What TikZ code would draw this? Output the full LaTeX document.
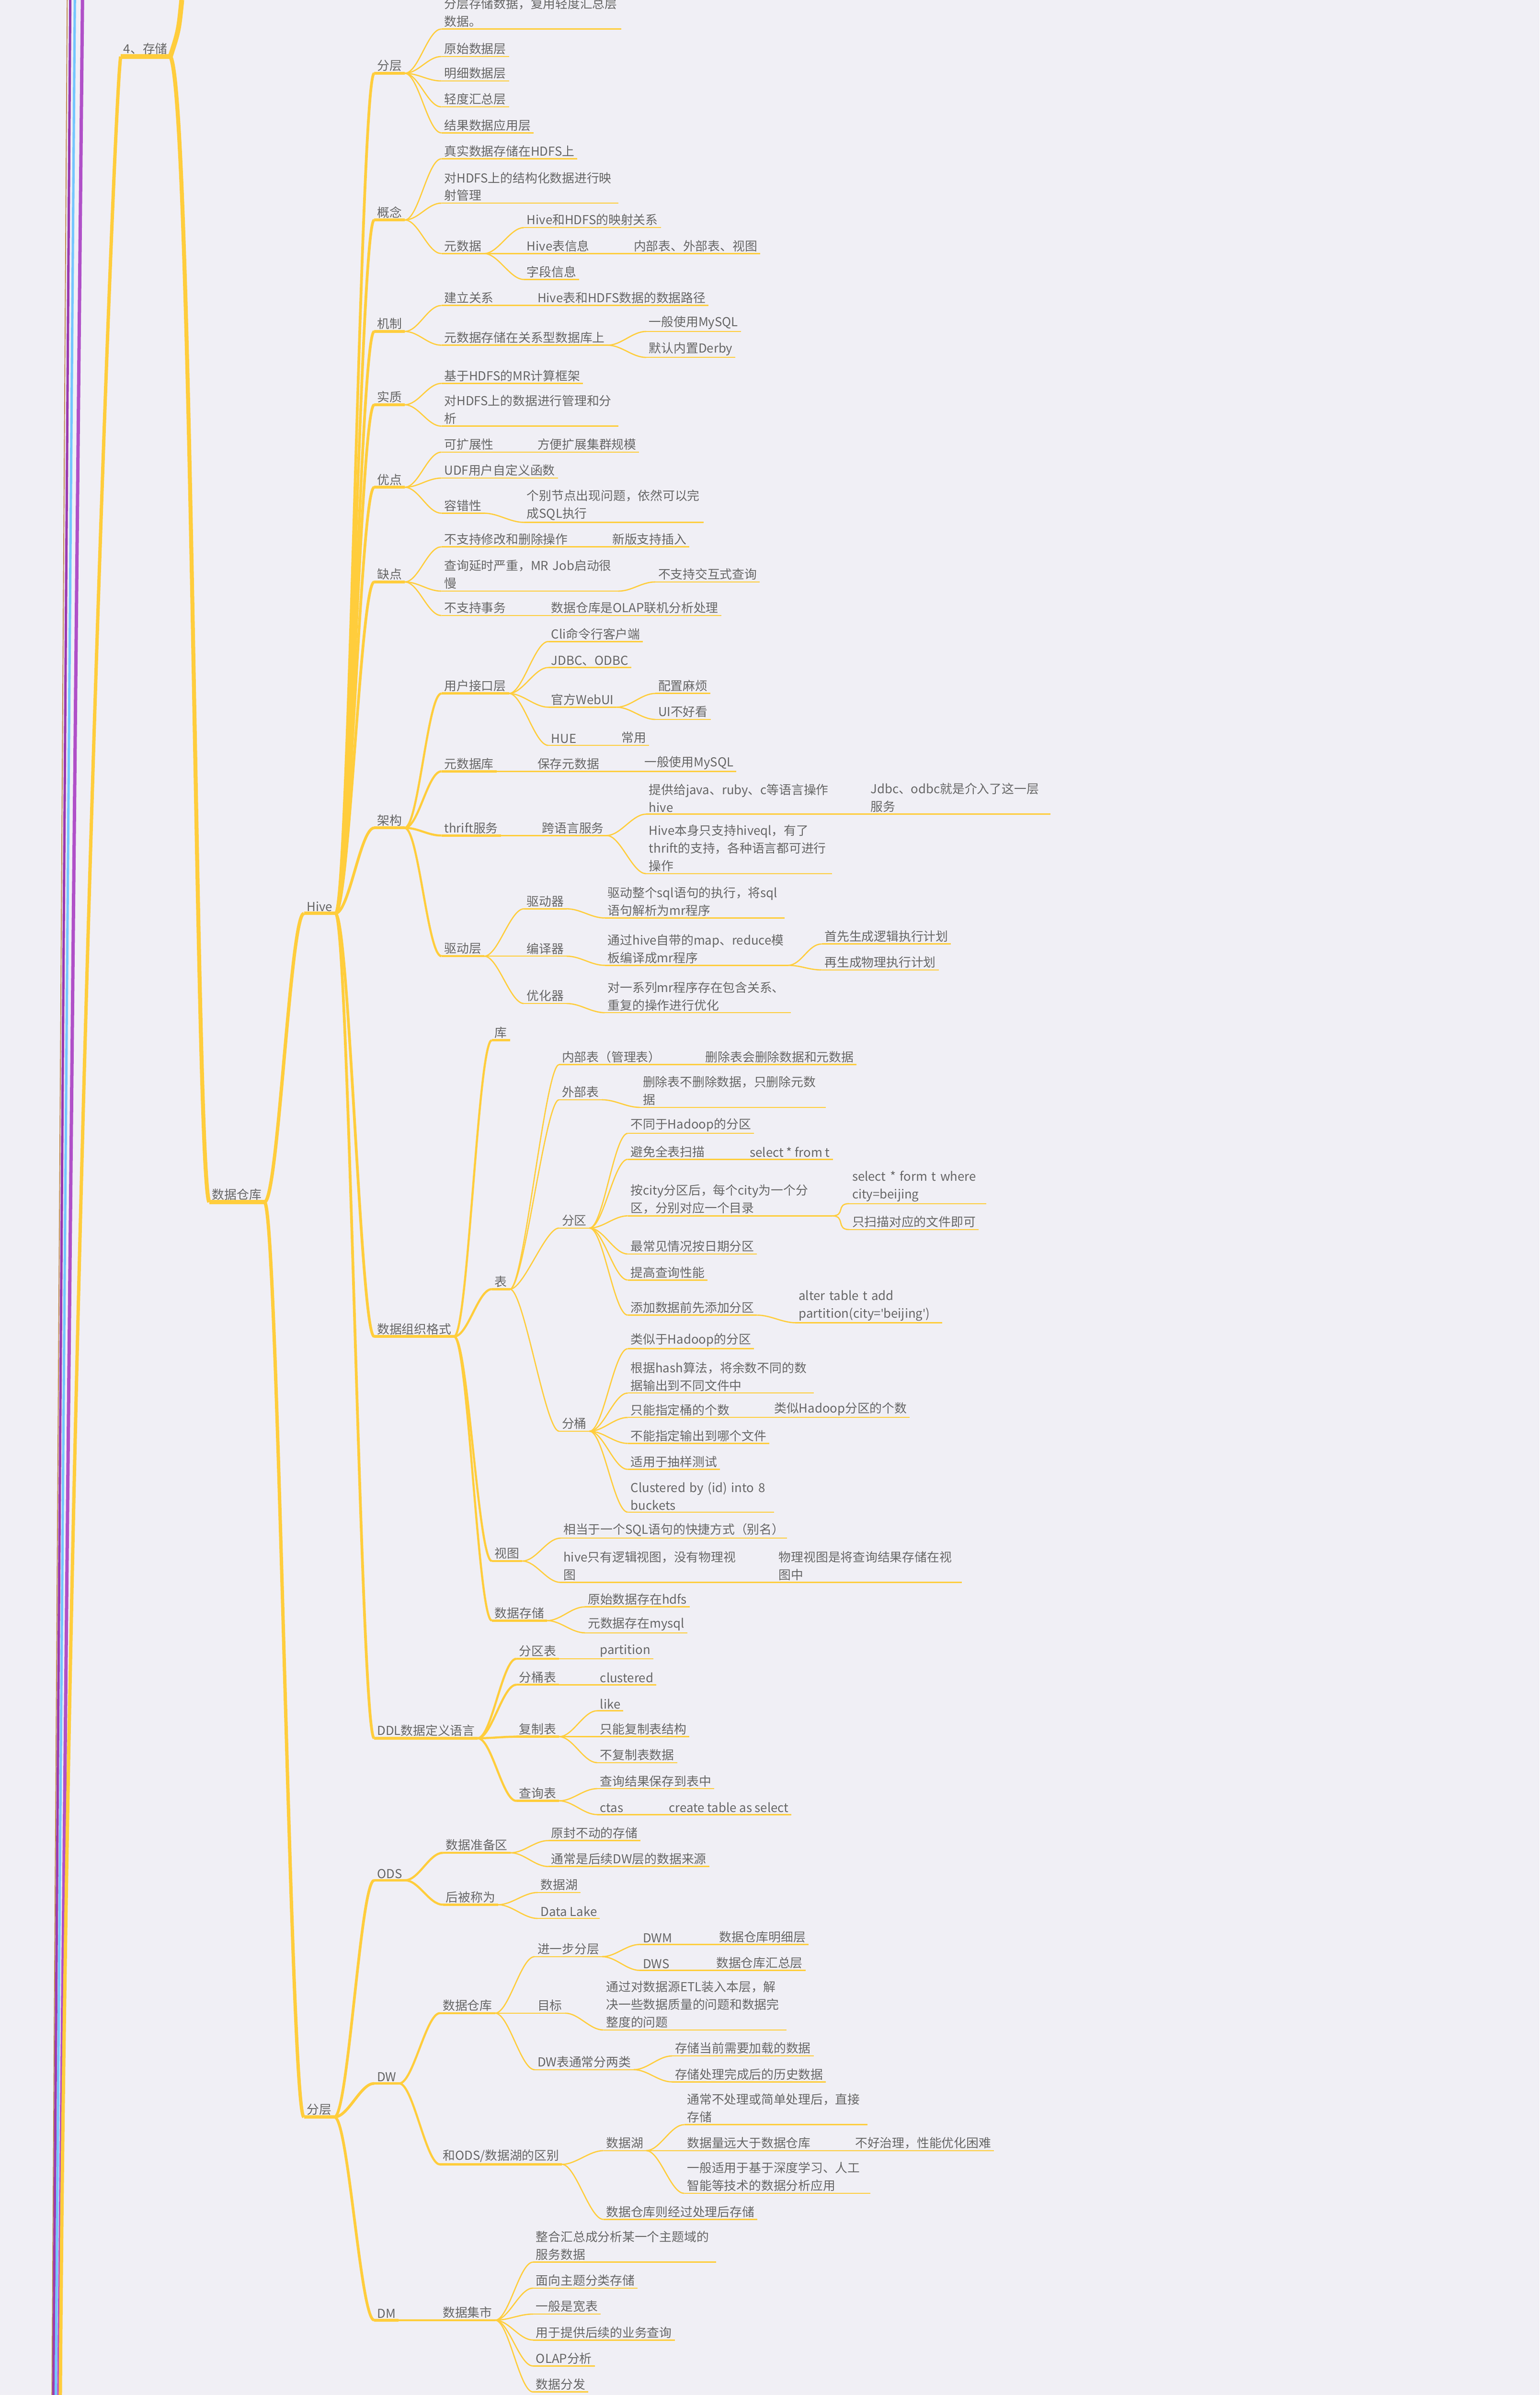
\documentclass[tikz,border=0pt]{standalone}
\usepackage{fontspec}
\setmainfont{Noto Sans CJK SC}
\newfontfamily\latf{Noto Sans}
\usetikzlibrary{positioning}
\definecolor{bgc}{HTML}{F0EFF5}
\definecolor{yl}{HTML}{FFCD3C}
\definecolor{txt}{HTML}{666666}
\definecolor{pur}{HTML}{9B3AB0}
\definecolor{purl}{HTML}{B050C8}
\definecolor{sky}{HTML}{74C6FF}
\definecolor{brn}{HTML}{C08A50}
\newcommand\nd[5][]{\node[lf,#1] (#2) at (#3,#4) {#5};}
\newcommand\br[3][0.04cm]{\draw[yl,line width=#1] (#2.south east) .. controls +(9,0) and +(-9,0) .. (#3.south west);}

\begin{document}
\begin{tikzpicture}[
    x=0.05cm, y=-0.05cm,
    lf/.style={anchor=south west, inner xsep=2.5pt, inner ysep=1.6pt, text=txt, align=left,
      font=\fontsize{11.5}{16.5}\selectfont,
      append after command={(\tikzlastnode.south west) edge[yl, line width=#1] (\tikzlastnode.south east)}},
    lf/.default=0.04cm
]
\useasboundingbox[fill=bgc] (0,0) rectangle (1008,1568);

% side branches
\coordinate (a0) at (44,0);  \coordinate (a1) at (34,1568);
\coordinate (b0) at (46,0);  \coordinate (b1) at (35,1568);
\coordinate (c0) at (49,0);  \coordinate (c1) at (36.5,1568);
\coordinate (d0) at (54,0);  \coordinate (d1) at (38.5,1568);
\draw[brn, line width=0.03cm] (a0) -- (a1);
\draw[pur, line width=0.08cm] (b0) -- (b1);
\draw[sky, line width=0.08cm] (c0) -- (c1);
\draw[purl, line width=0.11cm] (d0) -- (d1);

% root branch
\nd[lf=0.16cm]{store}{79}{37}{4、存储}
\coordinate (up) at (119,0);
\coordinate (dn) at (39.5,1568);
\draw[yl, line width=0.16cm] (store.south east) .. controls (117,20) .. (up);
\draw[yl, line width=0.11cm] (store.south west) .. controls (74,70) and (44,900) .. (dn);

\nd[lf=0.13cm]{dw}{137}{787}{数据仓库}
\draw[yl, line width=0.13cm] (store.south east) .. controls (126,60) and (128,770) .. (dw.south west);

\nd[lf=0.11cm]{hive}{199}{598}{Hive}
\nd[lf=0.11cm]{lay}{199}{1386}{分层}
\br[0.11cm]{dw}{hive}
\br[0.11cm]{dw}{lay}

% Hive
\nd[lf=0.09cm]{fc}{245}{48}{分层}
\nd[lf=0.09cm]{gn}{245}{144}{概念}
\nd[lf=0.09cm]{jz}{245}{217}{机制}
\nd[lf=0.09cm]{sz}{245}{265}{实质}
\nd[lf=0.09cm]{yd}{245}{319}{优点}
\nd[lf=0.09cm]{qd}{245}{381}{缺点}
\nd[lf=0.09cm]{jg}{245}{542}{架构}
\nd[lf=0.09cm]{zz}{245}{875}{数据组织格式}
\nd[lf=0.09cm]{ddl}{245}{1138}{DDL数据定义语言}
\foreach \k in {fc,gn,jz,sz,yd,qd,jg,zz,ddl} {\br[0.09cm]{hive}{\k}}

% Hive / 分层
\nd[text width=5.7cm]{fc0}{289}{19}{分层存储数据，复用轻度汇总层\\数据。}
\nd{fc1}{289}{37}{原始数据层}
\nd{fc2}{289}{53}{明细数据层}
\nd{fc3}{289}{70}{轻度汇总层}
\nd{fc4}{289}{87}{结果数据应用层}
\foreach \k in {fc0,fc1,fc2,fc3,fc4} {\br{fc}{\k}}

% Hive / 概念
\nd{gn1}{289}{104}{真实数据存储在HDFS上}
\nd[text width=5.6cm]{gn2}{289}{133}{对HDFS上的结构化数据进行映\\射管理}
\nd{gn3}{289}{166}{元数据}
\foreach \k in {gn1,gn2,gn3} {\br{gn}{\k}}
\nd{gn31}{343}{149}{Hive和HDFS的映射关系}
\nd{gn32}{343}{166}{Hive表信息}
\nd{gn33}{343}{183}{字段信息}
\foreach \k in {gn31,gn32,gn33} {\br{gn3}{\k}}
\nd{gn321}{413}{166}{内部表、外部表、视图}
\br{gn32}{gn321}

% Hive / 机制
\nd{jz1}{289}{200}{建立关系}
\nd{jz2}{289}{226}{元数据存储在关系型数据库上}
\br{jz}{jz1} \br{jz}{jz2}
\nd{jz11}{350}{200}{Hive表和HDFS数据的数据路径}
\br{jz1}{jz11}
\nd{jz21}{423}{217}{一般使用MySQL}
\nd{jz22}{423}{234}{默认内置Derby}
\br{jz2}{jz21} \br{jz2}{jz22}

% Hive / 实质
\nd{sz1}{289}{251}{基于HDFS的MR计算框架}
\nd[text width=5.6cm]{sz2}{289}{279}{对HDFS上的数据进行管理和分\\析}
\br{sz}{sz1} \br{sz}{sz2}

% Hive / 优点
\nd{yd1}{289}{296}{可扩展性}
\nd{yd2}{289}{313}{UDF用户自定义函数}
\nd{yd3}{289}{336}{容错性}
\foreach \k in {yd1,yd2,yd3} {\br{yd}{\k}}
\nd{yd11}{350}{296}{方便扩展集群规模}
\br{yd1}{yd11}
\nd[text width=5.7cm]{yd31}{343}{342}{个别节点出现问题，依然可以完\\成SQL执行}
\br{yd3}{yd31}

% Hive / 缺点
\nd{qd1}{289}{358}{不支持修改和删除操作}
\nd[text width=5.6cm]{qd2}{289}{387}{查询延时严重，MR Job启动很\\慢}
\nd{qd3}{289}{403}{不支持事务}
\foreach \k in {qd1,qd2,qd3} {\br{qd}{\k}}
\nd{qd11}{399}{358}{新版支持插入}
\nd{qd21}{429}{381}{不支持交互式查询}
\nd{qd31}{359}{403}{数据仓库是OLAP联机分析处理}
\br{qd1}{qd11} \br{qd2}{qd21} \br{qd3}{qd31}

% Hive / 架构
\nd[lf=0.07cm]{jg1}{289}{454}{用户接口层}
\nd[lf=0.07cm]{jg2}{289}{505}{元数据库}
\nd[lf=0.07cm]{jg3}{289}{547}{thrift服务}
\nd[lf=0.07cm]{jg4}{289}{626}{驱动层}
\foreach \k in {jg1,jg2,jg3,jg4} {\br[0.07cm]{jg}{\k}}
\nd{jg11}{359}{420}{Cli命令行客户端}
\nd{jg12}{359}{437}{JDBC、ODBC}
\nd{jg13}{359}{463}{官方WebUI}
\nd{jg14}{359}{488}{HUE}
\foreach \k in {jg11,jg12,jg13,jg14} {\br{jg1}{\k}}
\nd{jg131}{429}{454}{配置麻烦}
\nd{jg132}{429}{471}{UI不好看}
\br{jg13}{jg131} \br{jg13}{jg132}
\nd{jg141}{405}{488}{常用}
\br{jg14}{jg141}
\nd{jg21}{350}{505}{保存元数据}
\nd{jg211}{420}{505}{一般使用MySQL}
\br{jg2}{jg21} \br{jg21}{jg211}
\nd{jg31}{353}{547}{跨语言服务}
\br{jg3}{jg31}
\nd[text width=5.8cm]{jg311}{423}{533}{提供给java、ruby、c等语言操作\\hive}
\nd[text width=5.9cm]{jg312}{423}{572}{Hive本身只支持hiveql，有了\\thrift的支持，各种语言都可进行\\操作}
\br{jg31}{jg311} \br{jg31}{jg312}
\nd[text width=5.8cm]{jg3111}{568}{533}{Jdbc、odbc就是介入了这一层\\服务}
\br{jg311}{jg3111}
\nd{jg41}{343}{595}{驱动器}
\nd{jg42}{343}{626}{编译器}
\nd{jg43}{343}{657}{优化器}
\foreach \k in {jg41,jg42,jg43} {\br{jg4}{\k}}
\nd[text width=5.7cm]{jg411}{396}{601}{驱动整个sql语句的执行，将sql\\语句解析为mr程序}
\nd[text width=5.8cm]{jg421}{396}{632}{通过hive自带的map、reduce模\\板编译成mr程序}
\nd[text width=5.9cm]{jg431}{396}{663}{对一系列mr程序存在包含关系、\\重复的操作进行优化}
\br{jg41}{jg411} \br{jg42}{jg421} \br{jg43}{jg431}
\nd{jg4211}{538}{618}{首先生成逻辑执行计划}
\nd{jg4212}{538}{635}{再生成物理执行计划}
\br{jg421}{jg4211} \br{jg421}{jg4212}

% Hive / 数据组织格式
\nd[lf=0.07cm]{zz1}{322}{681}{库}
\nd[lf=0.07cm]{zz2}{322}{844}{表}
\nd[lf=0.07cm]{zz3}{322}{1022}{视图}
\nd[lf=0.07cm]{zz4}{322}{1061}{数据存储}
\foreach \k in {zz1,zz2,zz3,zz4} {\br[0.07cm]{zz}{\k}}
\nd{bn}{366}{697}{内部表（管理表）}
\nd{bw}{366}{720}{外部表}
\nd{bp}{366}{804}{分区}
\nd{bb}{366}{937}{分桶}
\foreach \k in {bn,bw,bp,bb} {\br{zz2}{\k}}
\nd{bn1}{460}{697}{删除表会删除数据和元数据}
\br{bn}{bn1}
\nd[text width=5.9cm]{bw1}{419}{725}{删除表不删除数据，只删除元数\\据}
\br{bw}{bw1}
\nd{bp1}{411}{742}{不同于Hadoop的分区}
\nd{bp2}{411}{759}{避免全表扫描}
\nd[text width=6.5cm]{bp3}{411}{796}{按city分区后，每个city为一个分\\区，分别对应一个目录}
\nd{bp4}{411}{821}{最常见情况按日期分区}
\nd{bp5}{411}{838}{提高查询性能}
\nd{bp6}{411}{861}{添加数据前先添加分区}
\foreach \k in {bp1,bp2,bp3,bp4,bp5,bp6} {\br{bp}{\k}}
\nd{bp21}{489}{759}{select * from t}
\br{bp2}{bp21}
\nd[text width=4.3cm]{bp31}{556}{788}{select * form t where\\city=beijing}
\nd{bp32}{556}{805}{只扫描对应的文件即可}
\br{bp3}{bp31} \br{bp3}{bp32}
\nd[text width=4.6cm]{bp61}{521}{866}{alter table t add\\partition(city={\latf\symbol{39}}beijing{\latf\symbol{39}})}
\br{bp6}{bp61}
\nd{bb1}{411}{883}{类似于Hadoop的分区}
\nd[text width=5.9cm]{bb2}{411}{912}{根据hash算法，将余数不同的数\\据输出到不同文件中}
\nd{bb3}{411}{928}{只能指定桶的个数}
\nd{bb4}{411}{945}{不能指定输出到哪个文件}
\nd{bb5}{411}{962}{适用于抽样测试}
\nd[text width=4.6cm]{bb6}{411}{990}{Clustered by (id) into 8\\buckets}
\foreach \k in {bb1,bb2,bb3,bb4,bb5,bb6} {\br{bb}{\k}}
\nd{bb31}{505}{928}{类似Hadoop分区的个数}
\br{bb3}{bb31}
\nd{st1}{367}{1007}{相当于一个SQL语句的快捷方式（别名）}
\nd[text width=5.8cm]{st2}{367}{1036}{hive只有逻辑视图，没有物理视\\图}
\br{zz3}{st1} \br{zz3}{st2}
\nd[text width=5.9cm]{st21}{508}{1036}{物理视图是将查询结果存储在视\\图中}
\br{st2}{st21}
\nd{cc1}{383}{1052}{原始数据存在hdfs}
\nd{cc2}{383}{1069}{元数据存在mysql}
\br{zz4}{cc1} \br{zz4}{cc2}

% Hive / DDL
\nd[lf=0.07cm]{dd1}{338}{1086}{分区表}
\nd[lf=0.07cm]{dd2}{338}{1103}{分桶表}
\nd[lf=0.07cm]{dd3}{338}{1137}{复制表}
\nd[lf=0.07cm]{dd4}{338}{1179}{查询表}
\foreach \k in {dd1,dd2,dd3,dd4} {\br[0.07cm]{ddl}{\k}}
\nd{dd11}{391}{1086}{partition}
\nd{dd21}{391}{1103}{clustered}
\br{dd1}{dd11} \br{dd2}{dd21}
\nd{dd31}{391}{1120}{like}
\nd{dd32}{391}{1137}{只能复制表结构}
\nd{dd33}{391}{1154}{不复制表数据}
\foreach \k in {dd31,dd32,dd33} {\br{dd3}{\k}}
\nd{dd41}{391}{1171}{查询结果保存到表中}
\nd{dd42}{391}{1188}{ctas}
\br{dd4}{dd41} \br{dd4}{dd42}
\nd{dd421}{436}{1188}{create table as select}
\br{dd42}{dd421}

% 分层
\nd[lf=0.09cm]{ods}{245}{1231}{ODS}
\nd[lf=0.09cm]{dwl}{245}{1364}{DW}
\nd[lf=0.09cm]{dm}{245}{1519}{DM}
\foreach \k in {ods,dwl,dm} {\br[0.09cm]{lay}{\k}}
\nd[lf=0.07cm]{od1}{290}{1213}{数据准备区}
\nd[lf=0.07cm]{od2}{290}{1247}{后被称为}
\br[0.07cm]{ods}{od1} \br[0.07cm]{ods}{od2}
\nd{od11}{359}{1205}{原封不动的存储}
\nd{od12}{359}{1222}{通常是后续DW层的数据来源}
\br{od1}{od11} \br{od1}{od12}
\nd{od21}{352}{1239}{数据湖}
\nd{od22}{352}{1256}{Data Lake}
\br{od2}{od21} \br{od2}{od22}

\nd[lf=0.07cm]{dw1}{288}{1318}{数据仓库}
\nd[lf=0.07cm]{dw2}{288}{1417}{和ODS/数据湖的区别}
\br[0.07cm]{dwl}{dw1} \br[0.07cm]{dwl}{dw2}
\nd{dw11}{350}{1281}{进一步分层}
\nd{dw12}{350}{1318}{目标}
\nd{dw13}{350}{1355}{DW表通常分两类}
\foreach \k in {dw11,dw12,dw13} {\br{dw1}{\k}}
\nd{dwm}{419}{1273}{DWM}
\nd{dws}{419}{1290}{DWS}
\br{dw11}{dwm} \br{dw11}{dws}
\nd{dwm1}{469}{1273}{数据仓库明细层}
\nd{dws1}{467}{1290}{数据仓库汇总层}
\br{dwm}{dwm1} \br{dws}{dws1}
\nd[text width=5.8cm]{dw121}{395}{1329}{通过对数据源ETL装入本层，解\\决一些数据质量的问题和数据完\\整度的问题}
\br{dw12}{dw121}
\nd{dw131}{440}{1346}{存储当前需要加载的数据}
\nd{dw132}{440}{1363}{存储处理完成后的历史数据}
\br{dw13}{dw131} \br{dw13}{dw132}
\nd{dw21}{395}{1408}{数据湖}
\nd{dw22}{395}{1453}{数据仓库则经过处理后存储}
\br{dw2}{dw21} \br{dw2}{dw22}
\nd[text width=5.8cm]{dw211}{448}{1391}{通常不处理或简单处理后，直接\\存储}
\nd{dw212}{448}{1408}{数据量远大于数据仓库}
\nd[text width=5.9cm]{dw213}{448}{1436}{一般适用于基于深度学习、人工\\智能等技术的数据分析应用}
\foreach \k in {dw211,dw212,dw213} {\br{dw21}{\k}}
\nd{dw2121}{558}{1408}{不好治理，性能优化困难}
\br{dw212}{dw2121}

\nd[lf=0.07cm]{dm1}{288}{1519}{数据集市}
\br[0.07cm]{dm}{dm1}
\nd[text width=5.8cm]{dm11}{349}{1481}{整合汇总成分析某一个主题域的\\服务数据}
\nd{dm12}{349}{1498}{面向主题分类存储}
\nd{dm13}{349}{1515}{一般是宽表}
\nd{dm14}{349}{1532}{用于提供后续的业务查询}
\nd{dm15}{349}{1549}{OLAP分析}
\nd{dm16}{349}{1566}{数据分发}
\foreach \k in {dm11,dm12,dm13,dm14,dm15,dm16} {\br{dm1}{\k}}
\end{tikzpicture}
\end{document}
